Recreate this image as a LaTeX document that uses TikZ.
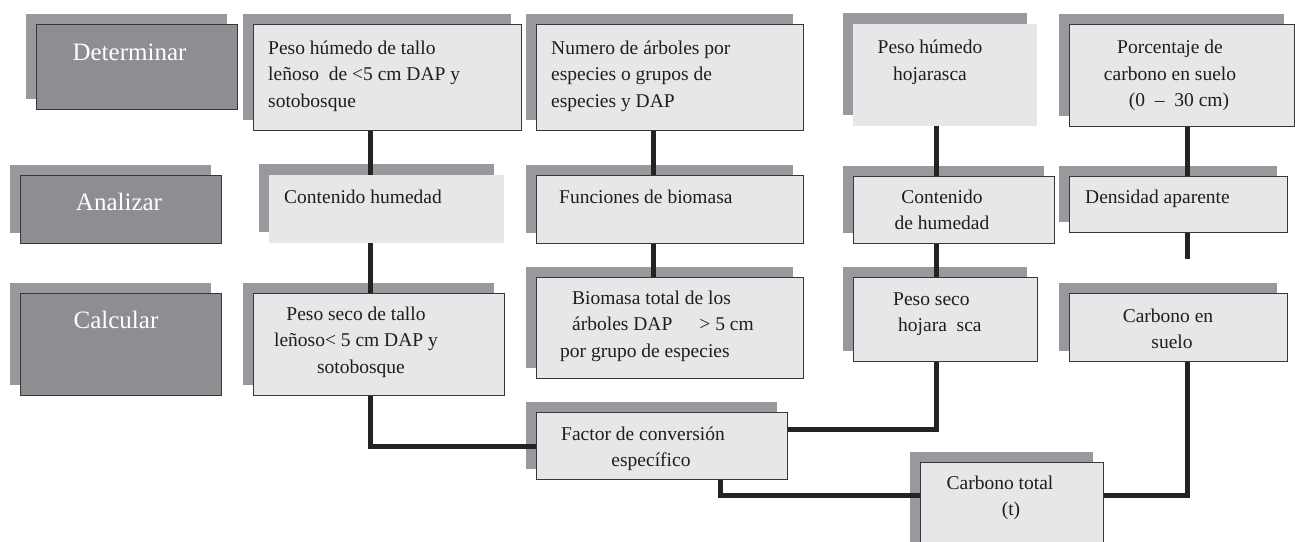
\documentclass[tikz,border=0pt]{standalone}
\usepackage{fontspec}
\setmainfont{Liberation Serif}
\usetikzlibrary{shadows}
\definecolor{shd}{RGB}{152,153,157}
\definecolor{lab}{RGB}{141,142,146}
\definecolor{lite}{RGB}{230,231,233}
\definecolor{edgec}{RGB}{55,55,55}
\definecolor{wirec}{RGB}{35,35,35}
\definecolor{ink}{RGB}{30,30,30}
\begin{document}
\begin{tikzpicture}[x=1pt,y=-1pt,
  sh/.style={general shadow={fill=shd, shadow xshift=-10.5pt, shadow yshift=11pt}},
  labbox/.style={sh, rectangle, fill=lab, draw=edgec, line width=1pt, inner sep=0pt, anchor=north west},
  litebox/.style={sh, rectangle, fill=lite, draw=edgec, line width=1pt, inner sep=0pt, anchor=north west},
  plainbox/.style={sh, rectangle, fill=lite, draw=none, inner sep=0pt, anchor=north west},
  labtxt/.style={inner sep=0pt, text=white, anchor=base, font=\fontsize{25}{30}\selectfont},
  txt/.style={inner sep=0pt, text=ink, anchor=base west, font=\fontsize{19.5}{26.5}\selectfont, align=left},
  ctxt/.style={txt, anchor=base, align=center},
  wire/.style={draw=wirec, line width=5pt}]
\useasboundingbox (0,0) rectangle (1295,541);
\fill[white] (0,0) rectangle (1295,541);
\clip (0,0) rectangle (1295,541);

% row labels
\node[labbox, minimum width=201pt, minimum height=85pt] (det) at (36,24) {};
\node[labbox, minimum width=201pt, minimum height=68pt] (ana) at (20,175) {};
\node[labbox, minimum width=201pt, minimum height=102pt] (cal) at (20,293) {};
\node[labtxt] (dett) at (129.5,60) {Determinar};
\node[labtxt] (anat) at (119,210) {Analizar};
\node[labtxt] (calt) at (116,328) {Calcular};

% determinar row (anchor = baseline of last line)
\node[litebox, minimum width=268pt, minimum height=106pt] (ph1) at (253,24) {};
\node[litebox, minimum width=267pt, minimum height=106pt] (nb) at (536,24) {};
\node[plainbox, minimum width=184pt, minimum height=102pt] (ph3) at (853,24) {};
\node[litebox, minimum width=225pt, minimum height=102pt] (ph4) at (1069,24) {};
\node[txt] (ph1t) at (268,107) {Peso húmedo de tallo\\leñoso\ \ de <5 cm DAP y\\sotobosque};
\node[txt] (nbt) at (551,107) {Numero de árboles por\\especies o grupos de\\especies y DAP};
\node[ctxt] (ph3t) at (930,80) {Peso húmedo\\hojarasca};
\node[ctxt] (ph4t) at (1170,106.5) {Porcentaje de\\carbono en suelo\\\hspace*{18pt}(0 \ – \ 30 cm)};

% analizar row
\node[plainbox, minimum width=235pt, minimum height=68pt] (ch1) at (269,175) {};
\node[litebox, minimum width=267pt, minimum height=68pt] (fb) at (536,175) {};
\node[litebox, minimum width=201pt, minimum height=67pt] (ch3) at (853,176) {};
\node[litebox, minimum width=218pt, minimum height=56pt] (da) at (1069,176) {};
\node[txt] (ch1t) at (284,203) {Contenido humedad};
\node[txt] (fbt) at (559,203) {Funciones de biomasa};
\node[ctxt] (ch3t) at (942,229.5) {Contenido\\de humedad};
\node[txt] (dat) at (1085,203) {Densidad aparente};

% calcular row
\node[litebox, minimum width=251pt, minimum height=102pt] (ps1) at (253,293) {};
\node[litebox, minimum width=267pt, minimum height=101pt] (bt) at (536,277) {};
\node[litebox, minimum width=184pt, minimum height=84pt] (ps3) at (853,277) {};
\node[litebox, minimum width=218pt, minimum height=68pt] (ps4) at (1069,293) {};
\node[ctxt] (ps1t) at (356,373) {Peso seco de tallo\\leñoso< 5 cm DAP y\\\hspace*{10pt}sotobosque};
\node[txt] (btt) at (572,357) {Biomasa total de los\\árboles DAP\hspace{27pt}> 5 cm\\\hspace*{-12pt}por grupo de especies};
\node[txt] (ps3t) at (893,331.5) {Peso seco\\\hspace*{5pt}hojara\ \ sca};
\node[ctxt] (ps4t) at (1168,348.5) {Carbono en\\\hspace*{8pt}suelo};

% bottom
\node[litebox, minimum width=251pt, minimum height=67pt] (fc) at (536,412) {};
\node[litebox, minimum width=183pt, minimum height=100pt] (ct) at (920,462) {};
\node[ctxt] (fct) at (643,466.5) {Factor de conversión\\\hspace*{16pt}específico};
\node[ctxt] (ctt) at (1000,515.5) {Carbono total\\\hspace*{22pt}(t)};

% column guides
\coordinate (cA) at (370,0);
\coordinate (cB) at (653,0);
\coordinate (cC) at (936,0);
\coordinate (cD) at (1187,0);
\coordinate (cE) at (720,0);
\coordinate (stub) at (1187,259);

% connectors
\draw[wire] (ph1.south -| cA) -- (ch1.north -| cA);
\draw[wire] (ch1.south -| cA) -- (ps1.north -| cA);
\draw[wire] (ps1.south -| cA) |- (fc.west);
\draw[wire] (nb.south -| cB) -- (fb.north -| cB);
\draw[wire] (fb.south -| cB) -- (bt.north -| cB);
\draw[wire] (ph3.south -| cC) -- (ch3.north -| cC);
\draw[wire] (ch3.south -| cC) -- (ps3.north -| cC);
\draw[wire] (ps3.south -| cC) |- ([yshift=17pt]fc.east);
\draw[wire] (ph4.south -| cD) -- (da.north -| cD);
\draw[wire] (da.south -| cD) -- (stub);
\draw[wire] (fc.south -| cE) |- ([yshift=-33pt]ct.north west);
\draw[wire] (ps4.south -| cD) |- ([yshift=-33pt]ct.north east);
\end{tikzpicture}
\end{document}
